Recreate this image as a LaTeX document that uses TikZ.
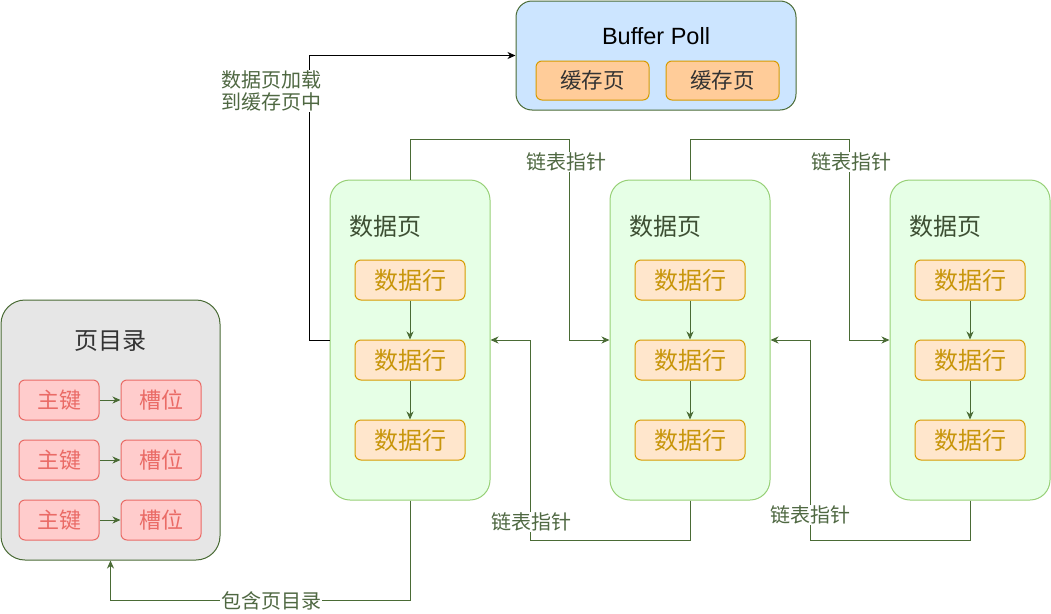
\documentclass[tikz,border=0pt]{standalone}
\usepackage{fontspec}
\setmainfont{Noto Sans CJK SC}
\newfontfamily\latinsf{Liberation Sans}
\usetikzlibrary{arrows.meta,calc}
\definecolor{lineg}{HTML}{4A6B35}
\definecolor{labtext}{HTML}{4F6842}
\definecolor{titletext}{HTML}{3D4F33}
\definecolor{pagefill}{HTML}{E6FFE6}
\definecolor{pageline}{HTML}{97D077}
\definecolor{rowfill}{HTML}{FFE6CC}
\definecolor{orline}{HTML}{D79B00}
\definecolor{rowtext}{HTML}{C8960C}
\definecolor{cachefill}{HTML}{FFCC99}
\definecolor{buffill}{HTML}{CCE5FF}
\definecolor{dirfill}{HTML}{E6E6E6}
\definecolor{keyfill}{HTML}{FFCCCC}
\definecolor{keyline}{HTML}{EA6B66}
\definecolor{darktext}{HTML}{333333}
\begin{document}
\begin{tikzpicture}[x=1pt,y=-1pt,
  container/.style={draw=lineg, line width=1pt, inner sep=0pt},
  pagebox/.style={draw=pageline, fill=pagefill, line width=1pt, rounded corners=20pt, minimum width=160pt, minimum height=320pt, inner sep=0pt},
  rowbox/.style={draw=orline, fill=rowfill, line width=1pt, rounded corners=6pt, minimum width=110pt, minimum height=40pt, inner sep=0pt, text=rowtext, font=\fontsize{24}{28}\selectfont},
  cachebox/.style={draw=orline, fill=cachefill, line width=1pt, rounded corners=6pt, minimum width=113pt, minimum height=39pt, inner sep=0pt, text=darktext, font=\fontsize{21.5}{26}\selectfont},
  keybox/.style={draw=keyline, fill=keyfill, line width=1pt, rounded corners=6pt, minimum width=80pt, minimum height=40pt, inner sep=0pt, text=keyline, font=\fontsize{22}{26}\selectfont},
  pagetitle/.style={inner sep=0pt, text=titletext, font=\fontsize{24}{28}\selectfont},
  lbl/.style={fill=white, inner sep=1pt, text=labtext, font=\fontsize{20}{22}\selectfont, align=center},
  conn/.style={draw=lineg, line width=1pt, -{Stealth[length=8pt,width=7pt,inset=2.5pt]}},
]
\useasboundingbox (0,0) rectangle (1051,613);

% Buffer pool
\node[container, fill=buffill, rounded corners=16pt, minimum width=280pt, minimum height=109pt] (buf) at (656,55.5) {};
\node[inner sep=0pt, text=black, font=\latinsf\fontsize{23.5}{28}\selectfont] (buftitle) at (656,36) {Buffer Poll};
\node[cachebox] (c1) at (592.5,80.5) {缓存页};
\node[cachebox] (c2) at (722.5,80.5) {缓存页};

% page directory
\node[container, fill=dirfill, rounded corners=24pt, minimum width=219pt, minimum height=260pt] (dir) at (110.5,430) {};
\node[inner sep=0pt, text=darktext, font=\fontsize{24}{28}\selectfont] (dirtitle) at (110,341) {页目录};
\node[keybox] (k1) at (59,400) {主键};
\node[keybox] (k2) at (59,460) {主键};
\node[keybox] (k3) at (59,520) {主键};
\node[keybox] (s1) at (161,400) {槽位};
\node[keybox] (s2) at (161,460) {槽位};
\node[keybox] (s3) at (161,520) {槽位};
\draw[conn] (k1) -- (s1);
\draw[conn] (k2) -- (s2);
\draw[conn] (k3) -- (s3);

% data pages
\node[pagebox] (dp1) at (410,340) {};
\node[pagebox] (dp2) at (690,340) {};
\node[pagebox] (dp3) at (970,340) {};
\node[pagetitle] (t1) at (385,226) {数据页};
\node[pagetitle] (t2) at (665,226) {数据页};
\node[pagetitle] (t3) at (945,226) {数据页};

\node[rowbox] (r11) at (410,280) {数据行};
\node[rowbox] (r12) at (410,360) {数据行};
\node[rowbox] (r13) at (410,440) {数据行};
\node[rowbox] (r21) at (690,280) {数据行};
\node[rowbox] (r22) at (690,360) {数据行};
\node[rowbox] (r23) at (690,440) {数据行};
\node[rowbox] (r31) at (970,280) {数据行};
\node[rowbox] (r32) at (970,360) {数据行};
\node[rowbox] (r33) at (970,440) {数据行};
\draw[conn] (r11) -- (r12);
\draw[conn] (r12) -- (r13);
\draw[conn] (r21) -- (r22);
\draw[conn] (r22) -- (r23);
\draw[conn] (r31) -- (r32);
\draw[conn] (r32) -- (r33);

% connectors
\draw[conn, draw=black] (dp1.west) -- ++(-20,0) |- (buf.west);
\draw[conn] (dp1.north) -- ++(0,-40) -| ($(dp2.west)+(-40,0)$) -- (dp2.west);
\draw[conn] (dp2.north) -- ++(0,-40) -| ($(dp3.west)+(-40,0)$) -- (dp3.west);
\draw[conn] (dp2.south) -- ++(0,40) -| ($(dp1.east)+(40,0)$) -- (dp1.east);
\draw[conn] (dp3.south) -- ++(0,40) -| ($(dp2.east)+(40,0)$) -- (dp2.east);
\draw[conn] (dp1.south) -- ++(0,100) -| (dir.south);

% labels
\node[lbl] (l0) at (271,91) {数据页加载\\到缓存页中};
\node[lbl] (l1) at (566,162) {链表指针};
\node[lbl] (l2) at (851,162) {链表指针};
\node[lbl] (l3) at (531,522) {链表指针};
\node[lbl] (l4) at (810,515) {链表指针};
\node[lbl, inner ysep=0pt] (l5) at (271,601) {包含页目录};
\end{tikzpicture}
\end{document}
